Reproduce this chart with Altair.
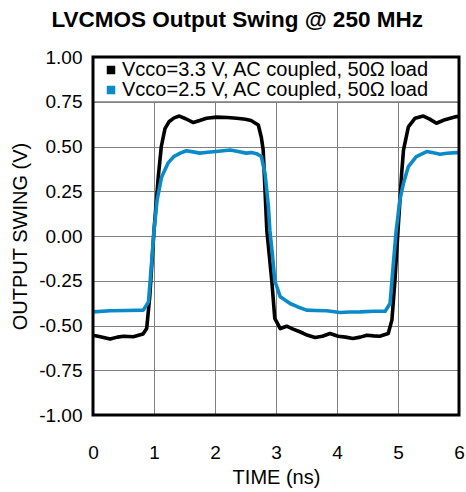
import altair as alt
import pandas as pd

FONT = "Liberation Sans"
BLUE = "#0a8bc8"

s33_label = "Vcco=3.3 V, AC coupled, 50\u03a9 load"
s25_label = "Vcco=2.5 V, AC coupled, 50\u03a9 load"

# Vcco = 3.3 V trace
t33 = [0.00, 0.12, 0.28, 0.40, 0.50, 0.66, 0.82, 0.88, 0.93, 1.00, 1.07, 1.12, 1.18,
       1.25, 1.33, 1.415, 1.52, 1.645, 1.75, 1.86, 2.03, 2.20, 2.355, 2.50, 2.59,
       2.71, 2.76, 2.79, 2.85, 2.93, 2.98, 3.07, 3.175, 3.28, 3.39, 3.52, 3.64,
       3.76, 3.885, 4.02, 4.14, 4.26, 4.38, 4.49, 4.60, 4.70, 4.84, 4.90, 4.95,
       5.00, 5.06, 5.09, 5.17, 5.28, 5.415, 5.52, 5.63, 5.77, 5.96, 6.00]
v33 = [-0.554, -0.563, -0.576, -0.565, -0.560, -0.563, -0.548, -0.517, -0.34, 0.03,
       0.33, 0.50, 0.60, 0.64, 0.66, 0.67, 0.655, 0.634, 0.645, 0.658, 0.664, 0.662,
       0.658, 0.652, 0.645, 0.62, 0.55, 0.48, 0.03, -0.246, -0.46, -0.517, -0.504,
       -0.52, -0.535, -0.555, -0.567, -0.56, -0.545, -0.56, -0.565, -0.573, -0.565,
       -0.554, -0.558, -0.56, -0.545, -0.47, -0.246, 0.03, 0.35, 0.48, 0.61, 0.658,
       0.67, 0.653, 0.63, 0.65, 0.667, 0.667]

# Vcco = 2.5 V trace
t25 = [0.00, 0.28, 0.55, 0.825, 0.91, 0.96, 1.00, 1.05, 1.125, 1.235, 1.33, 1.43,
       1.53, 1.64, 1.75, 1.88, 2.02, 2.25, 2.38, 2.51, 2.60, 2.68, 2.76, 2.82, 2.875,
       2.90, 2.94, 2.98, 3.07, 3.23, 3.35, 3.50, 3.65, 3.83, 4.05, 4.20, 4.38, 4.60,
       4.79, 4.87, 4.92, 4.97, 5.03, 5.09, 5.17, 5.30, 5.47, 5.58, 5.69, 5.80, 5.96,
       6.00]
v25 = [-0.424, -0.418, -0.416, -0.414, -0.368, -0.153, 0.03, 0.20, 0.33, 0.41, 0.445,
       0.463, 0.476, 0.47, 0.463, 0.468, 0.472, 0.48, 0.472, 0.463, 0.466, 0.46, 0.444,
       0.35, 0.165, 0.03, -0.10, -0.25, -0.34, -0.377, -0.395, -0.414, -0.416, -0.418,
       -0.427, -0.425, -0.424, -0.420, -0.420, -0.377, -0.17, 0.03, 0.20, 0.295, 0.388,
       0.444, 0.472, 0.465, 0.457, 0.462, 0.466, 0.466]

x_ticks = [0, 1, 2, 3, 4, 5, 6]
y_ticks = [-1.0, -0.75, -0.5, -0.25, 0.0, 0.25, 0.5, 0.75, 1.0]

df33 = pd.DataFrame({"t": t33, "v": v33, "series": s33_label})
df25 = pd.DataFrame({"t": t25, "v": v25, "series": s25_label})
one = pd.DataFrame({"k": [0]})

xscale = alt.Scale(domain=[0, 6], nice=False, zero=False)
yscale = alt.Scale(domain=[-1, 1], nice=False, zero=False)

xaxis = alt.Axis(values=x_ticks, format="d", title="TIME (ns)", labelFlush=False,
                 labelPadding=28, titleY=52, titleBaseline="top")
yaxis = alt.Axis(values=y_ticks, title="OUTPUT SWING (V)", labelFlush=False,
                 labelExpr="replace(format(datum.value, '.2f'), '\u2212', '-')",
                 labelPadding=11, titleX=-73, titleY=179, titleAngle=270,
                 titleBaseline="middle", titleAlign="center")

legend_common = dict(title=None, orient="none", legendX=8, padding=0,
                     symbolType="square", symbolSize=4, symbolStrokeWidth=6.5,
                     labelOffset=1, labelFontSize=20, labelFont=FONT,
                     labelColor="black", labelLimit=500)

legend_bg = alt.Chart(one).mark_rect(fill="white").encode(
    x=alt.datum(0, scale=xscale, axis=xaxis), x2=alt.datum(6),
    y=alt.datum(0.75, scale=yscale, axis=yaxis), y2=alt.datum(1.0),
)
legend_rule = alt.Chart(one).mark_rule(color="#808080", strokeWidth=1).encode(
    y=alt.datum(0.75),
)

line33 = alt.Chart(df33).mark_line(strokeWidth=3.6, strokeJoin="round").encode(
    x=alt.X("t:Q", scale=xscale, axis=xaxis),
    y=alt.Y("v:Q", scale=yscale, axis=yaxis),
    color=alt.Color("series:N",
                    scale=alt.Scale(domain=[s33_label], range=["#000000"]),
                    legend=alt.Legend(legendY=3, **legend_common)),
)
line25 = alt.Chart(df25).mark_line(strokeWidth=3.6, strokeJoin="round").encode(
    x=alt.X("t:Q", scale=xscale, axis=xaxis),
    y=alt.Y("v:Q", scale=yscale, axis=yaxis),
    stroke=alt.Stroke("series:N",
                      scale=alt.Scale(domain=[s25_label], range=[BLUE]),
                      legend=alt.Legend(legendY=23, **legend_common)),
)

frame = alt.Chart(one).mark_rect(fill=None, stroke="black", strokeWidth=3).encode(
    x=alt.datum(0), x2=alt.datum(6), y=alt.datum(-1), y2=alt.datum(1),
)

chart = alt.layer(legend_bg, legend_rule, line33, line25, frame).properties(
    width=366, height=358, background="white",
    title=alt.TitleParams("LVCMOS Output Swing @ 250 MHz", font=FONT, fontSize=22.5,
                          fontWeight="bold", color="black", anchor="middle",
                          frame="bounds", baseline="alphabetic", offset=-1),
    padding={"left": 93, "top": 57, "right": 7, "bottom": 77},
    autosize=alt.AutoSizeParams(type="none"),
).configure_view(stroke=None).configure_axis(
    domain=False, ticks=False, tickSize=0, grid=True, gridColor="#808080",
    gridWidth=1, labelFont=FONT, labelFontSize=19, labelColor="black",
    titleFont=FONT, titleFontSize=20, titleFontWeight="normal", titleColor="black",
)

chart.save("out.html", embed_options={"renderer": "svg", "actions": False})
